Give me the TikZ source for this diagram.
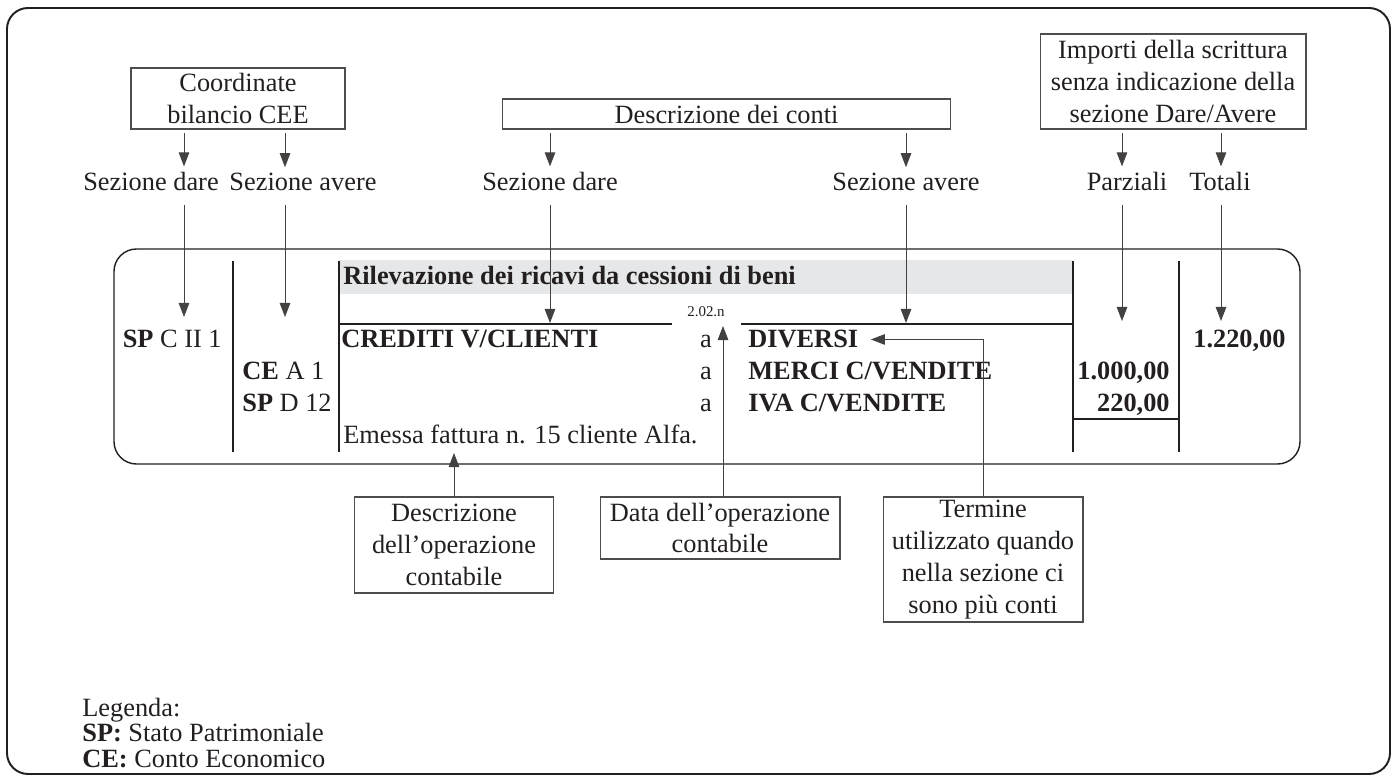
\documentclass[tikz,border=0pt]{standalone}
\usepackage{fontspec}
\setmainfont{Liberation Serif}
\usetikzlibrary{arrows.meta, positioning}
\definecolor{bandgray}{HTML}{E6E7E8}
\definecolor{ink}{HTML}{231F20}

\tikzset{
  box/.style={draw=ink!80, line width=0.6pt, align=center, inner sep=0pt},
  lbl/.style={inner sep=3.4pt, anchor=base},
  txt/.style={inner sep=0pt},
  arr/.style={draw=ink!85, line width=0.55pt, -{Triangle[length=8pt,width=6pt]}},
  rule/.style={draw=ink, line width=0.8pt},
}

\begin{document}
\begin{tikzpicture}[x=0.02cm, y=-0.02cm, font=\fontsize{15}{18.2}\selectfont, text=ink]
\useasboundingbox (0,0) rectangle (1397,776);

% Outer frame
\draw[ink, line width=1.1pt, rounded corners=0.42cm] (7,8) rectangle (1390,774);

% Heading boxes
\node[box, minimum width=4.28cm, minimum height=1.22cm] (coord) at (238,98.5) {Coordinate\\bilancio CEE};
\node[box, minimum width=8.98cm, minimum height=0.6cm] (conti) at (726.5,114) {Descrizione dei conti};
\node[box, minimum width=5.32cm, minimum height=1.9cm] (importi) at (1173,81.5) {Importi della scrittura\\senza indicazione della\\sezione Dare/Avere};

% Column labels
\node[lbl] (sdA) at (151,191) {Sezione dare};
\node[lbl] (saA) at (303,191) {Sezione avere};
\node[lbl] (sdB) at (550,191) {Sezione dare};
\node[lbl] (saB) at (906,191) {Sezione avere};
\node[lbl] (parz) at (1127,191) {Parziali};
\node[lbl] (tot) at (1220,191) {Totali};

% Arrow ends in the journal entry
\coordinate (tipA) at (184,317);
\coordinate (tipB) at (285,317);
\coordinate (tipC) at (550,323);
\coordinate (tipD) at (906,323);
\coordinate (tipE) at (1122,321);
\coordinate (tipF) at (1221,321);

% Journal entry frame
\draw[ink, line width=0.8pt, rounded corners=0.45cm] (114,249) rectangle (1300,464);
\fill[bandgray] (339,260) rectangle (1073,294);
\draw[rule] (233,261) -- (233,452);
\draw[rule] (339,261) -- (339,452);
\draw[rule] (1073,261) -- (1073,452);
\draw[rule] (1179,261) -- (1179,452);
\draw[rule] (339,324) -- (672,324);
\draw[rule] (741,324) -- (1073,324);
\draw[rule] (1073,419) -- (1179,419);

% Entry text
\node[txt, anchor=base west] (title) at (343,285) {\textbf{Rilevazione dei ricavi da cessioni di beni}};
\node[txt, anchor=base, font=\fontsize{8.5}{10}\selectfont] (dt) at (706,317) {2.02.n};

\node[txt, anchor=base east] (spc) at (222,348) {\textbf{SP} C II 1};
\node[txt, anchor=base west] (cea) at (242,380) {\textbf{CE} A 1};
\node[txt, anchor=base west] (spd) at (242,412) {\textbf{SP} D 12};

\node[txt, anchor=base west] (cred) at (341,348) {\textbf{CREDITI V/CLIENTI}};
\node[txt, anchor=base] (a1) at (706,348) {a};
\node[txt, anchor=base] (a2) at (706,380) {a};
\node[txt, anchor=base] (a3) at (706,412) {a};
\node[txt, anchor=base west] (diversi) at (748,348) {\textbf{DIVERSI}};
\node[txt, anchor=base west] (merci) at (748,380) {\textbf{MERCI C/VENDITE}};
\node[txt, anchor=base west] (iva) at (748,412) {\textbf{IVA C/VENDITE}};
\node[txt, anchor=base west] (emessa) at (343,444) {Emessa fattura n. 15 cliente Alfa.};

\node[txt, anchor=base west] (totale) at (1193,348) {\textbf{1.220,00}};
\node[txt, anchor=base east] (merciimp) at (1170,380) {\textbf{1.000,00}};
\node[txt, anchor=base east] (ivaimp) at (1170,412) {\textbf{220,00}};

% Bottom boxes
\node[box, minimum width=3.98cm, minimum height=1.92cm] (descop) at (454,545) {Descrizione\\dell'operazione\\contabile};
\node[box, minimum width=4.8cm, minimum height=1.24cm] (data) at (720,528) {Data dell'operazione\\contabile};
\node[box, minimum width=4.0cm, minimum height=2.5cm] (termine) at (983,559.5) {Termine\\utilizzato quando\\nella sezione ci\\sono più conti};
\coordinate (etip) at (454,453);
\coordinate (dtip) at (723,326);

% Arrows from the heading boxes
\draw[arr, shorten <=2pt] (coord.south -| tipA) -- (sdA.north -| tipA);
\draw[arr, shorten <=2pt] (coord.south -| tipB) -- (saA.north -| tipB);
\draw[arr, shorten <=2pt] (conti.south -| tipC) -- (sdB.north -| tipC);
\draw[arr, shorten <=2pt] (conti.south -| tipD) -- (saB.north -| tipD);
\draw[arr, shorten <=2pt] (importi.south -| tipE) -- (parz.north -| tipE);
\draw[arr, shorten <=2pt] (importi.south -| tipF) -- (tot.north -| tipF);

% Arrows into the entry
\draw[arr, shorten <=4pt] (sdA.south -| tipA) -- (tipA);
\draw[arr, shorten <=4pt] (saA.south -| tipB) -- (tipB);
\draw[arr, shorten <=4pt] (sdB.south -| tipC) -- (tipC);
\draw[arr, shorten <=4pt] (saB.south -| tipD) -- (tipD);
\draw[arr, shorten <=4pt] (parz.south -| tipE) -- (tipE);
\draw[arr, shorten <=4pt] (tot.south -| tipF) -- (tipF);

% Arrows from the bottom boxes
\draw[arr] (descop.north) -- (etip);
\draw[arr] (data.north -| dtip) -- (dtip);
\draw[arr, shorten >=7pt] (termine.north) |- (diversi.east);

% Legend
\node[txt, anchor=base west] (leg) at (82,717) {Legenda:};
\node[txt, anchor=base west] (legsp) at (82,742) {\textbf{SP:} Stato Patrimoniale};
\node[txt, anchor=base west] (legce) at (82,767) {\textbf{CE:} Conto Economico};

\end{tikzpicture}
\end{document}
